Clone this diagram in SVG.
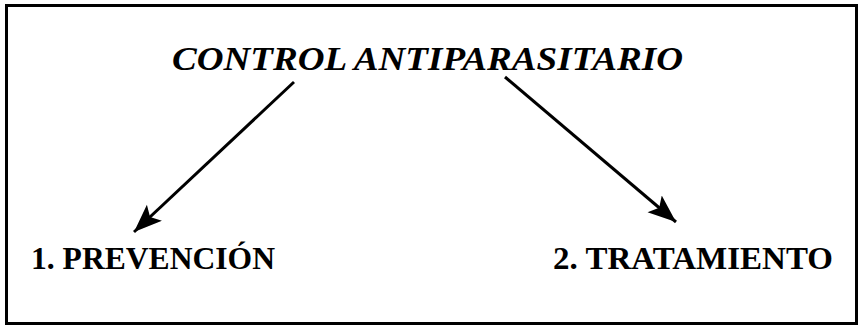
<svg xmlns="http://www.w3.org/2000/svg" width="859" height="326" viewBox="0 0 859 326">
  <style>
    .frame { fill: #fff; stroke: #000; stroke-width: 3; }
    .title { font-family: "Liberation Serif", "Times New Roman", serif; font-style: italic; font-weight: bold; font-size: 33px; fill: #000; }
    .item { font-family: "Liberation Serif", "Times New Roman", serif; font-weight: bold; font-size: 32px; fill: #000; }
    .link { stroke: #000; stroke-width: 3; fill: none; marker-end: url(#head); }
  </style>
  <defs>
    <marker id="head" markerUnits="userSpaceOnUse" markerWidth="30" markerHeight="24" refX="28" refY="11" orient="auto">
      <path d="M0,0 L28,11 L0,22 L6,11 Z" fill="#000"/>
    </marker>
  </defs>
  <rect width="859" height="326" fill="#fff"/>
  <rect class="frame" x="6.5" y="5.5" width="850" height="318"/>
  <g id="control">
    <text class="title" x="172" y="70" textLength="511" lengthAdjust="spacingAndGlyphs">CONTROL ANTIPARASITARIO</text>
  </g>
  <g id="prevencion">
    <text class="item" x="31" y="269" textLength="244" lengthAdjust="spacingAndGlyphs">1. PREVENCIÓN</text>
  </g>
  <g id="tratamiento">
    <text class="item" x="553" y="269" textLength="280" lengthAdjust="spacingAndGlyphs">2. TRATAMIENTO</text>
  </g>
  <g id="connectors">
    <line class="link" x1="294" y1="82" x2="134" y2="232"/>
    <line class="link" x1="505" y1="77" x2="676" y2="222"/>
  </g>
</svg>
